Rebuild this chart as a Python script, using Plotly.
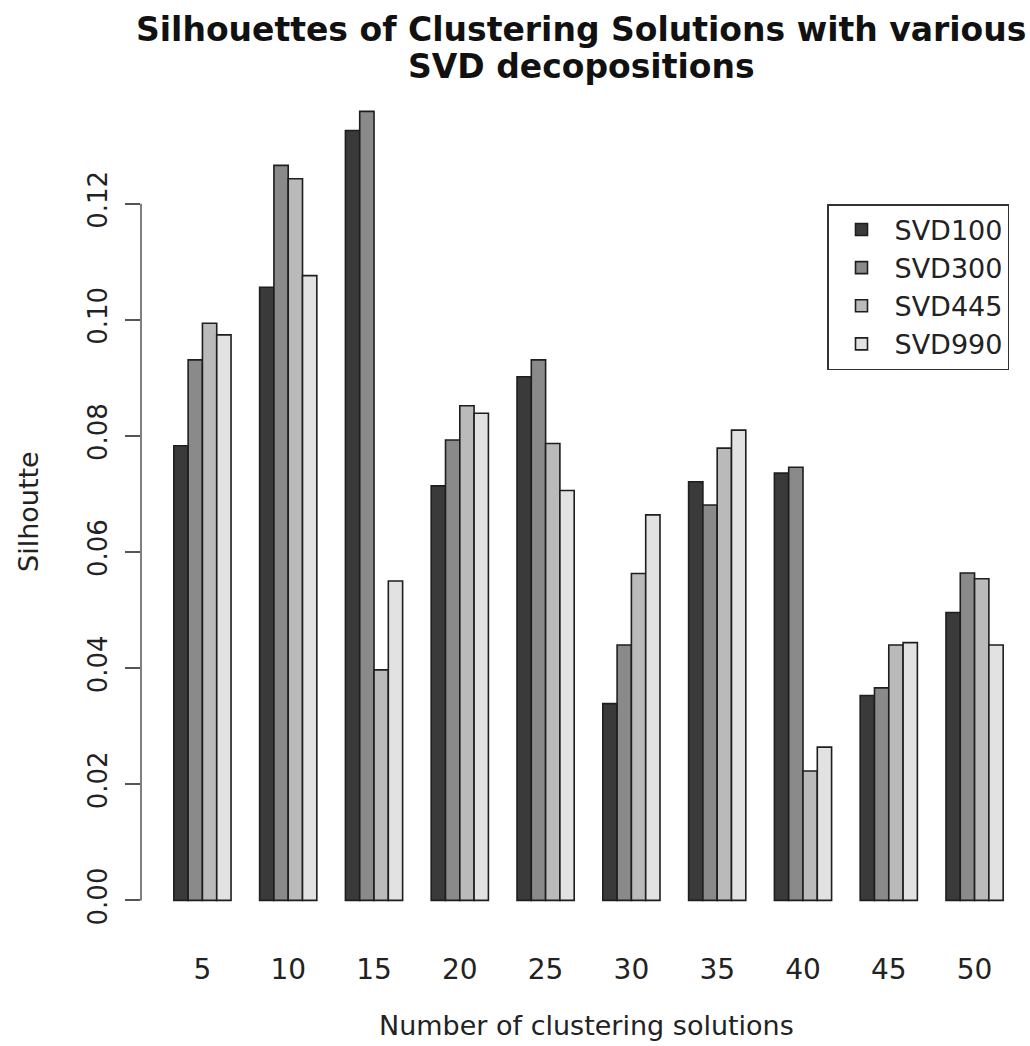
import plotly.graph_objects as go

# Number of clustering solutions (x categories)
clusters = ["5", "10", "15", "20", "25", "30", "35", "40", "45", "50"]

# Silhouette values per SVD decomposition
svd100 = [0.0783, 0.1056, 0.1326, 0.0714, 0.0902, 0.0339, 0.0721, 0.0736, 0.0353, 0.0496]
svd300 = [0.0931, 0.1266, 0.1359, 0.0793, 0.0931, 0.0440, 0.0681, 0.0746, 0.0366, 0.0564]
svd445 = [0.0994, 0.1243, 0.0397, 0.0852, 0.0787, 0.0563, 0.0779, 0.0223, 0.0440, 0.0554]
svd990 = [0.0974, 0.1076, 0.0550, 0.0839, 0.0706, 0.0664, 0.0810, 0.0264, 0.0444, 0.0440]

series_names = ["SVD100", "SVD300", "SVD445", "SVD990"]
series_values = [svd100, svd300, svd445, svd990]
fills = ["#3a3a3a", "#8a8a8a", "#bababa", "#e2e2e2"]

y_ticks = [0.00, 0.02, 0.04, 0.06, 0.08, 0.10, 0.12]
y_tick_text = ["0.00", "0.02", "0.04", "0.06", "0.08", "0.10", "0.12"]

FONT = "DejaVu Sans"
TXT = "#222222"

fig = go.Figure()
for name, vals, col in zip(series_names, series_values, fills):
    fig.add_trace(go.Bar(
        x=clusters, y=vals, name=name,
        marker=dict(color=col, line=dict(color="#1e1e1e", width=1.6)),
    ))

W, H = 1030, 1046
ml, mr, mt, mb = 141, 0, 80, 114
pw, ph = W - ml - mr, H - mt - mb
cx_main = (581 - ml) / pw  # horizontal centre of the main title
cx_xlab = (586 - ml) / pw  # horizontal centre of the x-axis title

fig.update_layout(
    width=W, height=H,
    margin=dict(l=ml, r=mr, t=mt, b=mb, pad=0),
    paper_bgcolor="white", plot_bgcolor="white",
    barmode="group", bargap=1/3, bargroupgap=0,
    font=dict(family=FONT, color=TXT, size=20),
    showlegend=True,
    legend=dict(
        x=(827 - ml) / pw, y=(H - mb - 204) / ph, xanchor="left", yanchor="top",
        xref="paper", yref="paper",
        bgcolor="white", bordercolor="#333333", borderwidth=1.5,
        font=dict(family=FONT, size=27, color=TXT),
        itemwidth=56, tracegroupgap=0,
    ),
    xaxis=dict(
        type="category", range=[-0.716, 9.646],
        showline=False, showgrid=False, zeroline=False,
        ticks="", tickfont=dict(family=FONT, size=28, color=TXT),
        ticklabelstandoff=18,
    ),
    yaxis=dict(
        range=[-0.00544, 0.1413],
        showline=False, showgrid=False, zeroline=False,
        tickvals=y_ticks, ticktext=y_tick_text,
        ticks="outside", ticklen=15, tickwidth=1.5, tickcolor="#555555",
        tickangle=-90, tickfont=dict(family=FONT, size=26, color=TXT),
        ticklabelstandoff=8,
    ),
    shapes=[dict(
        type="line", xref="paper", yref="y",
        x0=0, x1=0, y0=y_ticks[0], y1=y_ticks[-1],
        line=dict(color="#555555", width=1.5),
    )],
    annotations=[
        dict(text="<b>Silhouettes of Clustering Solutions with various</b>",
             xref="paper", yref="paper", x=cx_main, y=1, yshift=mt - 29,
             xanchor="center", yanchor="middle", showarrow=False,
             font=dict(family=FONT, size=33, color="#111111")),
        dict(text="<b>SVD decopositions</b>",
             xref="paper", yref="paper", x=cx_main, y=1, yshift=mt - 66,
             xanchor="center", yanchor="middle", showarrow=False,
             font=dict(family=FONT, size=33, color="#111111")),
        dict(text="Number of clustering solutions", xref="paper", yref="paper",
             x=cx_xlab, y=0, yshift=-(1025 - (H - mb)),
             xanchor="center", yanchor="middle", showarrow=False,
             font=dict(family=FONT, size=27, color=TXT)),
        dict(text="Silhoutte", xref="paper", yref="paper",
             x=0, xshift=-(ml - 28), y=(H - mb - 512) / ph,
             xanchor="center", yanchor="middle", textangle=-90, showarrow=False,
             font=dict(family=FONT, size=27, color=TXT)),
    ],
)

fig.write_html("out.html")
